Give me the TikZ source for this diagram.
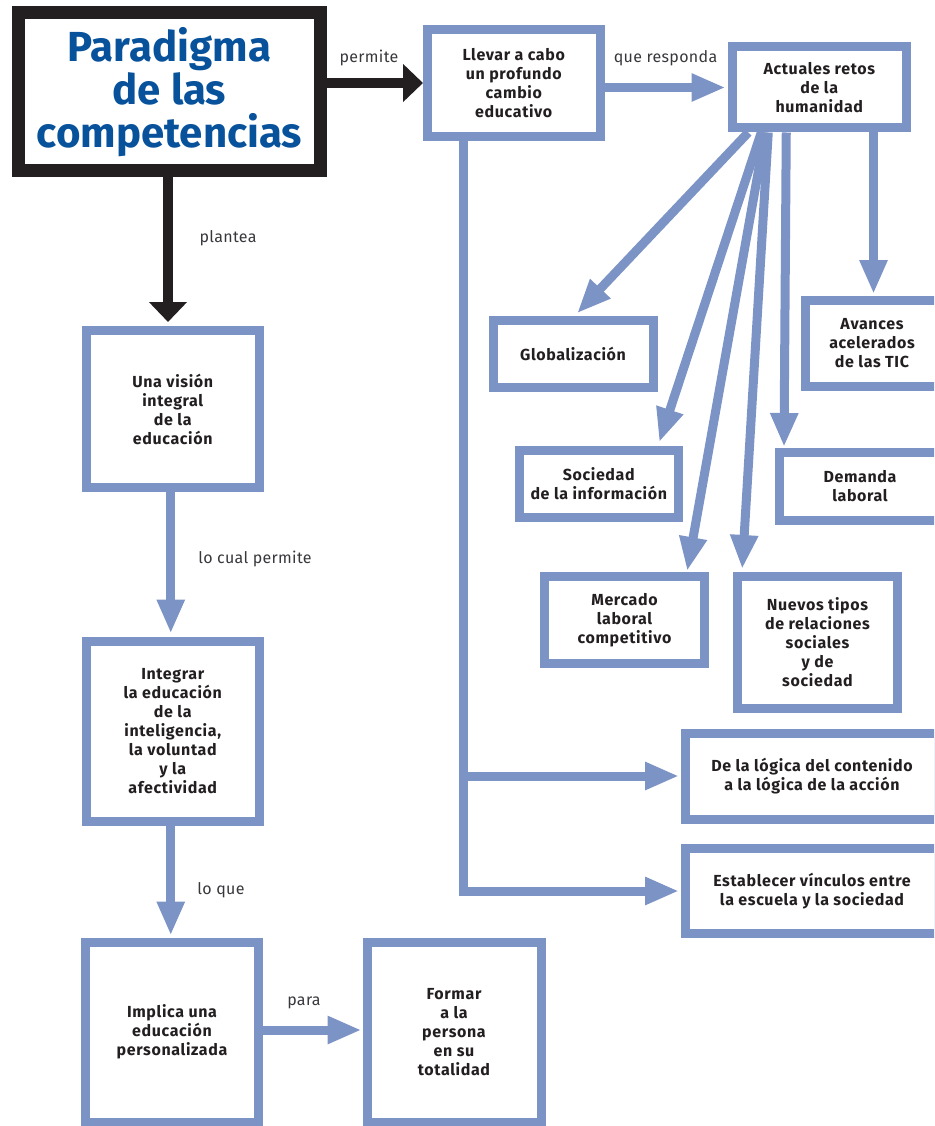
\documentclass[tikz,border=0pt]{standalone}
\usepackage{fontspec}
\setmainfont{Fira Sans}
\setsansfont{Fira Sans}
\newfontfamily\boxfont[LetterSpace=4]{Fira Sans}
\newfontfamily\labelfont[LetterSpace=2]{Fira Sans}
\usetikzlibrary{arrows.meta}
\definecolor{boxblue}{RGB}{124,147,198}
\definecolor{titleblue}{RGB}{8,82,156}
\definecolor{ink}{RGB}{35,31,32}
\definecolor{labelgray}{RGB}{55,55,60}
\begin{document}
\begin{tikzpicture}[x=1pt,y=-1pt,
  box/.style={draw=boxblue,line width=9pt,fill=white,rectangle,align=center,
    text=ink,font=\boxfont\bfseries\fontsize{16}{19}\selectfont,inner sep=2pt},
  mainbox/.style={draw=ink,line width=13pt,fill=white,rectangle,align=center,
    text=titleblue,font=\bfseries\fontsize{42}{43}\selectfont},
  arr/.style={draw=boxblue,line width=9pt,-{Triangle[length=34pt,width=26pt]}},
  blackarr/.style={draw=ink,line width=10pt,-{Triangle[length=20pt,width=37pt]}},
  lbl/.style={text=labelgray,font=\labelfont\fontsize{16}{18}\selectfont,inner sep=0pt}]
\useasboundingbox (0,0) rectangle (934,1126);
\clip (0,0) rectangle (934,1126);

% title box
\node[mainbox,minimum width=302pt,minimum height=158.5pt] (main) at (169.5,91.75)
  {Paradigma\\de las\\competencias};

% right branch
\node[box,minimum width=172.5pt,minimum height=107pt] (llevar) at (513.75,83)
  {Llevar a cabo\\un profundo\\cambio\\educativo};
\node[box,minimum width=174.5pt,minimum height=81pt] (retos) at (819.25,87.5)
  {Actuales retos\\de la\\humanidad};
\node[box,minimum width=160pt,minimum height=67.5pt] (glob) at (573,353.75)
  {Globalización};
\node[box,minimum width=134pt,minimum height=86pt] (avances) at (872,343.5)
  {Avances\\acelerados\\de las TIC};
\node[box,minimum width=159.5pt,minimum height=67pt] (soc) at (598.75,484)
  {Sociedad\\de la información};
\node[box,minimum width=161pt,minimum height=67.5pt] (demanda) at (860,486.25)
  {Demanda\\laboral};
\node[box,minimum width=160pt,minimum height=87pt] (merc) at (624.5,620)
  {Mercado\\laboral\\competitivo};
\node[box,minimum width=160pt,minimum height=131.5pt] (nuevos) at (817.5,642.25)
  {Nuevos tipos\\de relaciones\\sociales\\y de\\sociedad};
\node[box,minimum width=253pt,minimum height=86pt] (logica) at (812,776)
  {De la lógica del contenido\\a la lógica de la acción};
\node[box,minimum width=253pt,minimum height=85pt] (vinculos) at (812,891)
  {Establecer vínculos entre\\la escuela y la sociedad};

% left column
\node[box,minimum width=173.5pt,minimum height=157pt] (vision) at (172.75,409)
  {Una visión\\integral\\de la\\educación};
\node[box,minimum width=173.5pt,minimum height=180.5pt] (integrar) at (172.75,731.25)
  {Integrar\\la educación\\de la\\inteligencia,\\la voluntad\\y la\\afectividad};
\node[box,minimum width=173pt,minimum height=180pt] (implica) at (172,1032)
  {Implica una\\educación\\personalizada};
\node[box,minimum width=174pt,minimum height=180pt] (formar) at (454,1032)
  {Formar\\a la\\persona\\en su\\totalidad};

% black connectors from the title
\draw[blackarr] (main.east |- llevar) -- (llevar.west);
\draw[blackarr,shorten >=4pt] ([xshift=-1.5pt]main.south) -- ([xshift=-1.5pt]main.south |- vision.north);

% left column connectors
\draw[arr,shorten >=3pt] ([xshift=-2pt]vision.south) -- ([xshift=-2pt]vision.south |- integrar.north);
\draw[arr,shorten >=2pt] ([xshift=-2pt]integrar.south) -- ([xshift=-2pt]integrar.south |- implica.north);
\draw[arr,shorten >=1pt] (implica.east |- 0,1030) -- (formar.west |- 0,1030);

% right branch connectors
\draw[arr,shorten >=2pt] (llevar.east |- retos) -- (retos.west);
\coordinate (trunk) at ([xshift=-50.75pt]llevar.south);
\draw[arr,shorten >=2pt] (trunk) |- (vinculos.west);
\draw[arr,shorten >=2pt] (trunk |- logica.west) -- (logica.west);

% challenges fanning out
\draw[arr,shorten >=3pt] ([xshift=-71pt]retos.south) -- ([xshift=2pt]glob.north);
\draw[arr,shorten >=4pt] ([xshift=-58pt]retos.south) -- ([xshift=59.25pt]soc.north);
\draw[arr,shorten >=1pt] ([xshift=-54pt]retos.south) -- ([xshift=62.5pt]merc.north);
\draw[arr,shorten >=3pt] ([xshift=-51pt]retos.south) -- ([xshift=-75.5pt]nuevos.north);
\draw[arr,shorten >=1pt] ([xshift=-33pt]retos.south) -- ([xshift=-76pt]demanda.north);
\draw[arr,shorten >=2pt] ([xshift=54.25pt]retos.south) -- ([xshift=54.25pt]retos.south |- avances.north);

% connector labels
\node[lbl] (lpermite) at (369,58) {permite};
\node[lbl] (lresponda) at (665.5,58) {que responda};
\node[lbl] (lplantea) at (228,238) {plantea};
\node[lbl] (lcual) at (255,559) {lo cual permite};
\node[lbl] (lque) at (221,890) {lo que};
\node[lbl] (lpara) at (304,1003) {para};
\end{tikzpicture}
\end{document}
